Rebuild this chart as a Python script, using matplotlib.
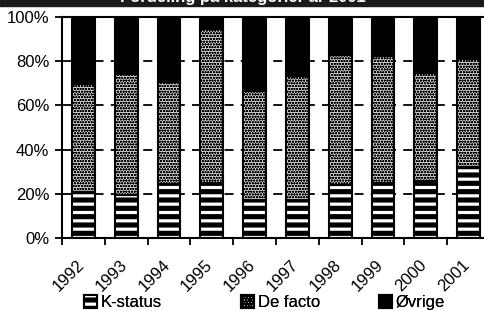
import matplotlib
matplotlib.use("Agg")
import matplotlib.pyplot as plt
import numpy as np
from matplotlib.patches import Rectangle
from matplotlib.ticker import FixedLocator, NullFormatter

# Data (share of total, %)
years = ["1992", "1993", "1994", "1995", "1996", "1997", "1998", "1999", "2000", "2001"]
k_status = [21, 19.5, 24.5, 25, 17, 17, 24, 25, 26, 32]
de_facto = [48.5, 54.5, 46, 69.5, 49.5, 56.5, 59, 57.5, 48.5, 49]
oevrige = [100 - k - d for k, d in zip(k_status, de_facto)]
yticks = [0, 20, 40, 60, 80, 100]
series = ["K-status", "De facto", "Øvrige"]

plt.rcParams["font.family"] = ["Liberation Sans", "DejaVu Sans"]
plt.rcParams["hatch.linewidth"] = 2.3

fig = plt.figure(figsize=(4.84, 3.11), dpi=100)
ax = fig.add_axes([62 / 484, 1 - 238 / 311, 428 / 484, 221 / 311])

x = np.arange(len(years)) + 0.5
w = 0.53
k = np.array(k_status)
d = np.array(de_facto)
o = np.array(oevrige)

# K-status: black with white horizontal stripes
kb = ax.bar(x, k, w, color="black", edgecolor="white", hatch="--", linewidth=0, zorder=2)
kb_edge = ax.bar(x, k, w, color="none", edgecolor="black", linewidth=1.5, zorder=3)
# De facto: fine stipple on light grey
db = ax.bar(x, d, w, bottom=k, color="#d2d2d2", edgecolor="black", linewidth=1.5,
            hatch="oooooo", zorder=2)
for p in db:
    if hasattr(p, "set_hatch_linewidth"):
        p.set_hatch_linewidth(0.6)
# Øvrige: solid black
ob = ax.bar(x, o, w, bottom=k + d, color="black", edgecolor="black", linewidth=1.5, zorder=2)

ax.set_xlim(0, len(years))
ax.set_ylim(0, 100)
ax.set_yticks(yticks)
ax.set_yticklabels([f"{v}%" for v in yticks], fontsize=12)
ax.xaxis.set_major_locator(FixedLocator(np.arange(len(years) + 1)))
ax.xaxis.set_major_formatter(NullFormatter())
# year labels sit a little left of the bar centres, as in the original
ax.xaxis.set_minor_locator(FixedLocator(x - 0.16))
ax.set_xticklabels(years, minor=True, rotation=45, ha="right", va="top",
                   rotation_mode="anchor", fontsize=12)
ax.tick_params(axis="x", which="minor", length=0, pad=14)
ax.tick_params(axis="both", which="major", direction="out", length=5, width=1.3)
ax.tick_params(axis="y", pad=4)

for v in yticks[1:-1]:
    ax.axhline(v, color="black", linestyle=(0, (5, 4)), linewidth=1.3, zorder=1)

ax.spines["right"].set_visible(False)
for s in ["left", "bottom", "top"]:
    ax.spines[s].set_linewidth(1.5)

# black title band at the top, mostly cut off by the image edge
fig.patches.append(Rectangle((0, 1 - 6 / 311), 1, 6 / 311, transform=fig.transFigure,
                             color="#1a1a1a", zorder=0))
fig.text(0.502, 1 - 2 / 311, "Fordeling på kategorier år 2001", color="white",
         ha="center", va="baseline", fontsize=12, fontweight="bold")

# one legend per entry, placed like the original
handles = [(kb[0], kb_edge[0]), db, ob]
for h, lab, lx in zip(handles, series, [84, 241, 379]):
    leg = fig.legend([h], [lab], loc="lower left", bbox_to_anchor=(lx / 484, 0.002),
                     frameon=False, fontsize=12, handlelength=0.75, handleheight=0.75,
                     handletextpad=0.25, borderaxespad=0, borderpad=0)
    fig.add_artist(leg)

fig.savefig("out.png", dpi=100)
